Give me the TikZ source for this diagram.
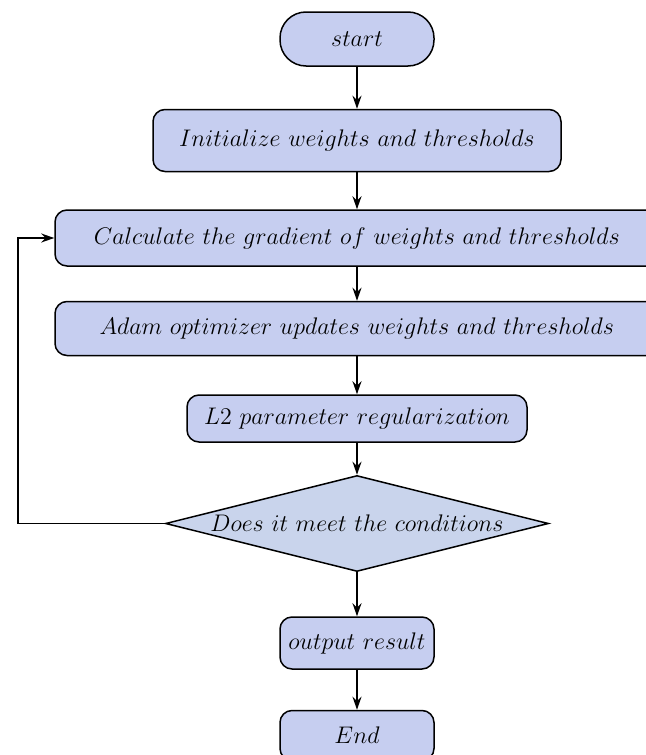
\documentclass[tikz,border=0pt]{standalone}
\usepackage{amsmath,amssymb}
\usepackage{xcolor}
\usepackage{tikz}
\usetikzlibrary{positioning,arrows.meta,shapes.geometric}
\definecolor{stepfill}{RGB}{198,206,240}
\definecolor{checkfill}{RGB}{201,212,236}

\begin{document}
\begin{tikzpicture}[
  x=0.5pt, y=-0.5pt,
  font=\fontsize{11.9}{14}\selectfont,
  node distance=19pt,
  terminal/.style={draw, line width=0.75pt, rounded corners=13pt, fill=stepfill, minimum width=77pt, minimum height=27pt, inner sep=1pt},
  process/.style={draw, line width=0.75pt, rounded corners=6pt, fill=stepfill, minimum height=28pt, inner sep=1.5pt},
  decision/.style={draw, line width=0.75pt, diamond, fill=checkfill, inner sep=0pt, minimum width=191.5pt, minimum height=48pt},
  arrow/.style={-{Stealth[length=6.5pt,width=4.5pt]}, line width=0.75pt}
]
\useasboundingbox (0,0) rectangle (646,755);

\node[terminal] (start) at (357,39) {$start$};
\node[process, below=21pt of start, minimum width=204pt, minimum height=31pt] (init) {$Initialize\ weights\ and\ thresholds$};
\node[process, below=18.5pt of init, minimum width=302pt] (grad) {$Calculate\ the\ gradient\ of\ weights\ and\ thresholds$};
\node[process, below=17pt of grad, minimum width=302pt, minimum height=27pt] (adam) {$Adam\ optimizer\ updates\ weights\ and\ thresholds$};
\node[process, below=19pt of adam, minimum width=170pt, minimum height=23.5pt] (reg) {$L2\ parameter\ regularization$};
\node[decision, below=16pt of reg] (check) {\makebox[0pt]{$Does\ it\ meet\ the\ conditions$}};
\node[process, below=22pt of check, minimum width=77pt, minimum height=26pt] (output) {$output\ result$};
\node[process, below=20pt of output, minimum width=77pt, minimum height=25pt] (finish) {$End$};

\draw[arrow] (start) -- (init);
\draw[arrow] (init) -- (grad);
\draw[arrow] (grad) -- (adam);
\draw[arrow] (adam) -- (reg);
\draw[arrow] (reg) -- (check);
\draw[arrow] (check) -- (output);
\draw[arrow] (output) -- (finish);
\draw[arrow] (check.west) -- ++(-147,0) |- (grad.west);
\end{tikzpicture}
\end{document}
